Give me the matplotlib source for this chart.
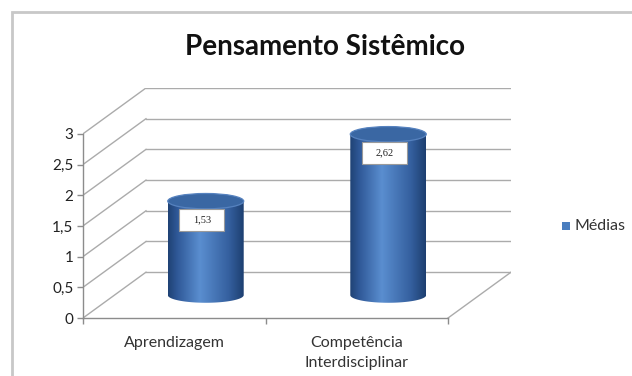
import numpy as np
import matplotlib
matplotlib.use("Agg")
import matplotlib.pyplot as plt
from matplotlib.patches import Ellipse, Rectangle, PathPatch
from matplotlib.path import Path
from matplotlib.colors import LinearSegmentedColormap
import matplotlib.transforms as mtransforms

# ---- data ----
title = "Pensamento Sistêmico"
categories = ["Aprendizagem", "Competência\nInterdisciplinar"]
medias = [1.53, 2.62]
value_labels = ["1,53", "2,62"]
series_name = "Médias"
y_ticks = [0, 0.5, 1, 1.5, 2, 2.5, 3]
y_tick_labels = ["0", "0,5", "1", "1,5", "2", "2,5", "3"]

plt.rcParams["font.family"] = ["Lato", "DejaVu Sans"]

W, H = 632, 376
fig = plt.figure(figsize=(W / 100, H / 100), dpi=100)
fig.patch.set_facecolor("white")

# chart frame
fig.patches.append(Rectangle((12 / W, -0.2), 1.2, 1.2 - 12 / H,
                             transform=fig.transFigure, fill=False,
                             edgecolor="#c8c8c8", lw=2.0))

# 3D depth offset of the back wall, in data units
DX, DY = 0.345, 0.746
ymax = 3
ax = fig.add_axes([83 / W, (H - 318) / H, (511 - 83) / W, (318 - 88) / H])
ax.set_xlim(-0.5, 1.5 + DX)
ax.set_ylim(0, ymax + DY)
ax.patch.set_alpha(0)

grid_c = "#ababab"
axis_c = "#8c8c8c"
x0, x1 = -0.5, len(categories) - 0.5

# back wall and side wall gridlines
for v in y_ticks:
    ax.plot([x0 + DX, x1 + DX], [v + DY, v + DY], color=grid_c, lw=1.0, zorder=1)
    ax.plot([x0, x0 + DX], [v, v + DY], color=grid_c, lw=1.0, zorder=1)
# right edge of floor
ax.plot([x1, x1 + DX], [0, DY], color=grid_c, lw=1.0, zorder=1)

# axes spines
for s in ("top", "right"):
    ax.spines[s].set_visible(False)
ax.spines["left"].set_bounds(0, ymax)
ax.spines["bottom"].set_bounds(x0, x1)
for s in ("left", "bottom"):
    ax.spines[s].set_color(axis_c)
    ax.spines[s].set_linewidth(1.0)

ax.set_yticks(y_ticks)
ax.set_yticklabels(y_tick_labels)
ax.tick_params(axis="y", direction="out", length=4, width=1, color=axis_c,
               labelsize=11, labelcolor="#222222", pad=3)
ax.set_xticks(range(len(categories)))
ax.set_xticklabels(categories, linespacing=1.5)
ax.set_xticks(np.arange(x0, x1 + 0.01, 1.0), minor=True)
ax.tick_params(axis="x", which="major", length=0, labelsize=11.5,
               labelcolor="#333333", pad=13)
ax.tick_params(axis="x", which="minor", direction="out", length=4, width=1,
               color=axis_c)

# cylinders
cyl_cmap = LinearSegmentedColormap.from_list(
    "cyl", [(0.0, "#1f4274"), (0.12, "#2f5897"), (0.42, "#5a8ed0"),
            (0.8, "#35609f"), (1.0, "#1d3f70")])
hw = 0.208   # half width in category units
eh = 0.125   # half height of the end ellipses in value units
grad = np.linspace(0, 1, 256).reshape(1, -1)
t = np.linspace(np.pi, 2 * np.pi, 60)

for i, (v, lab) in enumerate(zip(medias, value_labels)):
    cx = i + 0.5 * DX
    yb = 0.5 * DY
    yt = v + 0.5 * DY
    verts = [(cx - hw, yt), (cx - hw, yb)]
    verts += list(zip(cx + hw * np.cos(t), yb + eh * np.sin(t)))
    verts += [(cx + hw, yt), (cx - hw, yt)]
    body = PathPatch(Path(verts), facecolor="none", edgecolor="none")
    ax.add_patch(body)
    im = ax.imshow(grad, cmap=cyl_cmap, aspect="auto", interpolation="bilinear",
                   extent=[cx - hw, cx + hw, yb - eh, yt], zorder=3)
    im.set_clip_path(body)
    ax.add_patch(Ellipse((cx, yt), 2 * hw, 2 * eh, facecolor="#3a67a3",
                         edgecolor="#5682bf", lw=0.9, zorder=4))
    # value label box anchored to top of the cylinder
    tr = fig.dpi_scale_trans + mtransforms.ScaledTranslation(cx, yt, ax.transData)
    bw, bh = 0.45, 0.22
    ox, oy = -0.04, -0.19
    ax.add_patch(Rectangle((ox - bw / 2, oy - bh / 2), bw, bh, transform=tr,
                           facecolor="white", edgecolor="#9a9a9a", lw=0.8,
                           zorder=5, clip_on=False))
    ax.text(ox, oy, lab, transform=tr, ha="center", va="center",
            fontsize=7.5, family="Liberation Serif", color="#222222", zorder=6)

# title
fig.text(325 / W, 1 - 47 / H, title, ha="center", va="center",
         fontsize=20, fontweight="bold", color="#111111")

# legend
fig.patches.append(Rectangle((562 / W, 1 - 230 / H), 8 / W, 8 / H,
                             transform=fig.transFigure, facecolor="#4a7ebf",
                             edgecolor="none"))
fig.text(575 / W, 1 - 226 / H, series_name, ha="left", va="center",
         fontsize=11.5, color="#333333")

fig.savefig("out.png", dpi=100)
